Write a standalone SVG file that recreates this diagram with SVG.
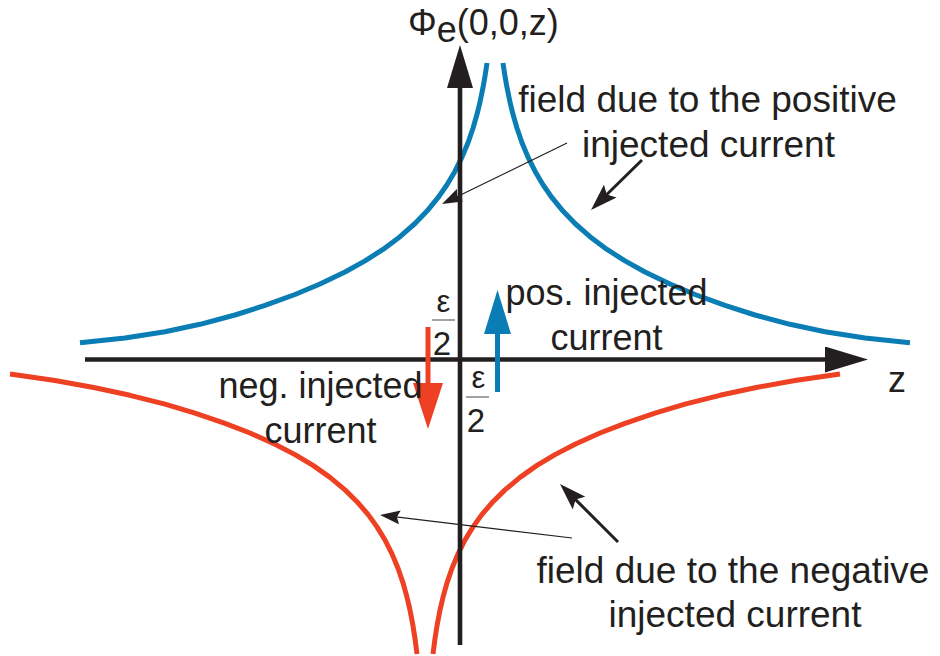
<svg xmlns="http://www.w3.org/2000/svg" width="940" height="656" viewBox="0 0 940 656">
  <defs>
    <style>
      .lbl { font-family: "Liberation Sans", Arial, Helvetica, sans-serif; fill: #231f20; }
      .big { font-size: 37px; }
      .mid { font-size: 36px; }
      .eps { font-size: 31px; }
      .two { font-size: 33px; }
      .axis { stroke: #231f20; stroke-width: 4.6; fill: none; }
      .blue { stroke: #0a7db4; stroke-width: 5; fill: none; stroke-linejoin: round; }
      .red { stroke: #ee4123; stroke-width: 5; fill: none; stroke-linejoin: round; }
      .thin { stroke: #231f20; stroke-width: 1.2; fill: none; }
      .thick { stroke: #231f20; stroke-width: 3; fill: none; }
      .bar { stroke: #6d6e71; stroke-width: 1.3; }
    </style>
    <marker id="axisHead" markerUnits="userSpaceOnUse" viewBox="0 0 43 26" refX="1" refY="13" markerWidth="43" markerHeight="26" orient="auto">
      <path d="M0,0 L43,13 L0,26 Z" fill="#231f20"/>
    </marker>
    <marker id="blueHead" markerUnits="userSpaceOnUse" viewBox="0 0 44 27" refX="1" refY="13.5" markerWidth="44" markerHeight="27" orient="auto">
      <path d="M0,0 L44,13.5 L0,27 Z" fill="#0a7db4"/>
    </marker>
    <marker id="redHead" markerUnits="userSpaceOnUse" viewBox="0 0 46 30" refX="1" refY="15" markerWidth="46" markerHeight="30" orient="auto">
      <path d="M0,0 L46,15 L0,30 Z" fill="#ee4123"/>
    </marker>
    <marker id="thinHead" markerUnits="userSpaceOnUse" viewBox="0 0 20 14" refX="4" refY="7" markerWidth="20" markerHeight="14" orient="auto">
      <path d="M0,0 L20,7 L0,14 L3,7 Z" fill="#231f20"/>
    </marker>
    <marker id="thickHead" markerUnits="userSpaceOnUse" viewBox="0 0 27 18" refX="6" refY="9" markerWidth="27" markerHeight="18" orient="auto">
      <path d="M0,0 L27,9 L0,18 L5,9 Z" fill="#231f20"/>
    </marker>
  </defs>

  <rect width="940" height="656" fill="#ffffff"/>

  <g id="field-curves">
    <polyline id="blue-left" class="blue" points="487,63 485,76.3 483,87.6 480,102.1 477,114.3 473,128.2 468,142.7 462,157.1 455,171.2 447,184.8 438,197.7 427,211.1 415,223.5 400,236.7 383,249.4 365,260.9 345,272 320,284 295,294.5 265,305.4 235,315 200,324.3 165,331.7 125,338 80,342.8"/>
    <polyline id="blue-right" class="blue" points="503,63 505,76.3 507,87.6 510,102.1 513,114.3 517,128.2 522,142.7 528,157.1 535,171.2 543,184.8 552,197.7 563,211.1 575,223.5 590,236.7 607,249.4 625,260.9 645,272 670,284 695,294.5 725,305.4 755,315 790,324.3 825,331.7 865,338 910,342.8"/>
    <polyline id="red-left" class="red" points="417,654 415,638.6 413,625.8 410,610.1 407,597.2 403,582.9 398,568.3 392,553.9 385,540 377,526.9 368,514.4 357,501.7 345,489.9 330,477.4 313,465.4 295,454.6 275,444.2 250,433 225,423.3 195,413.1 165,404.2 130,395.3 95,387.7 55,380.5 10,374.1"/>
    <polyline id="red-right" class="red" points="433,654 435,638.6 437,625.8 440,610.1 443,597.2 447,582.9 452,568.3 458,553.9 465,540 473,526.9 482,514.4 493,501.7 505,489.9 520,477.4 537,465.4 555,454.6 575,444.2 600,433 625,423.3 655,413.1 685,404.2 720,395.3 755,387.7 795,380.5 840,374.1"/>
  </g>

  <g id="axes">
    <line id="axis-phi" class="axis" x1="460" y1="645" x2="460" y2="87" marker-end="url(#axisHead)"/>
    <line id="axis-z" class="axis" x1="85" y1="359.5" x2="826" y2="359.5" marker-end="url(#axisHead)"/>
  </g>

  <g id="currents">
    <line id="pos-current" class="blue" x1="497.5" y1="392" x2="497.5" y2="333" marker-end="url(#blueHead)"/>
    <line id="neg-current" class="red" x1="428" y1="327" x2="428" y2="384" marker-end="url(#redHead)"/>
  </g>

  <g id="connectors">
    <line class="thin" x1="567" y1="143" x2="456.4" y2="197" marker-end="url(#thinHead)"/>
    <line class="thick" x1="642" y1="160" x2="606" y2="195.3" marker-end="url(#thickHead)"/>
    <line class="thin" x1="572" y1="538" x2="395.9" y2="516.9" marker-end="url(#thinHead)"/>
    <line class="thick" x1="618" y1="542" x2="574.85" y2="498.85" marker-end="url(#thickHead)"/>
  </g>

  <g id="label-phi">
    <text class="lbl mid" x="408" y="35">Φ<tspan dy="7">e</tspan><tspan dy="-7">(0,0,z)</tspan></text>
  </g>
  <g id="label-z">
    <text class="lbl mid" x="888" y="392">z</text>
  </g>

  <g id="eps-upper">
    <text class="lbl eps" x="443.5" y="312" text-anchor="middle">ε</text>
    <line class="bar" x1="432" y1="320" x2="455" y2="320"/>
    <text class="lbl two" x="442" y="355" text-anchor="middle">2</text>
  </g>
  <g id="eps-lower">
    <text class="lbl eps" x="478.5" y="388" text-anchor="middle">ε</text>
    <line class="bar" x1="466" y1="397" x2="489" y2="397"/>
    <text class="lbl two" x="476" y="432" text-anchor="middle">2</text>
  </g>

  <g id="label-pos-field">
    <text class="lbl big" x="707.5" y="112" text-anchor="middle">field due to the positive</text>
    <text class="lbl big" x="708.5" y="157" text-anchor="middle">injected current</text>
  </g>
  <g id="label-pos-current">
    <text class="lbl mid" x="606.5" y="305" text-anchor="middle">pos. injected</text>
    <text class="lbl mid" x="606.5" y="350" text-anchor="middle">current</text>
  </g>
  <g id="label-neg-current">
    <text class="lbl mid" x="320.5" y="398" text-anchor="middle">neg. injected</text>
    <text class="lbl mid" x="320.5" y="443" text-anchor="middle">current</text>
  </g>
  <g id="label-neg-field">
    <text class="lbl big" x="733" y="583" text-anchor="middle">field due to the negative</text>
    <text class="lbl big" x="735" y="627" text-anchor="middle">injected current</text>
  </g>
</svg>
